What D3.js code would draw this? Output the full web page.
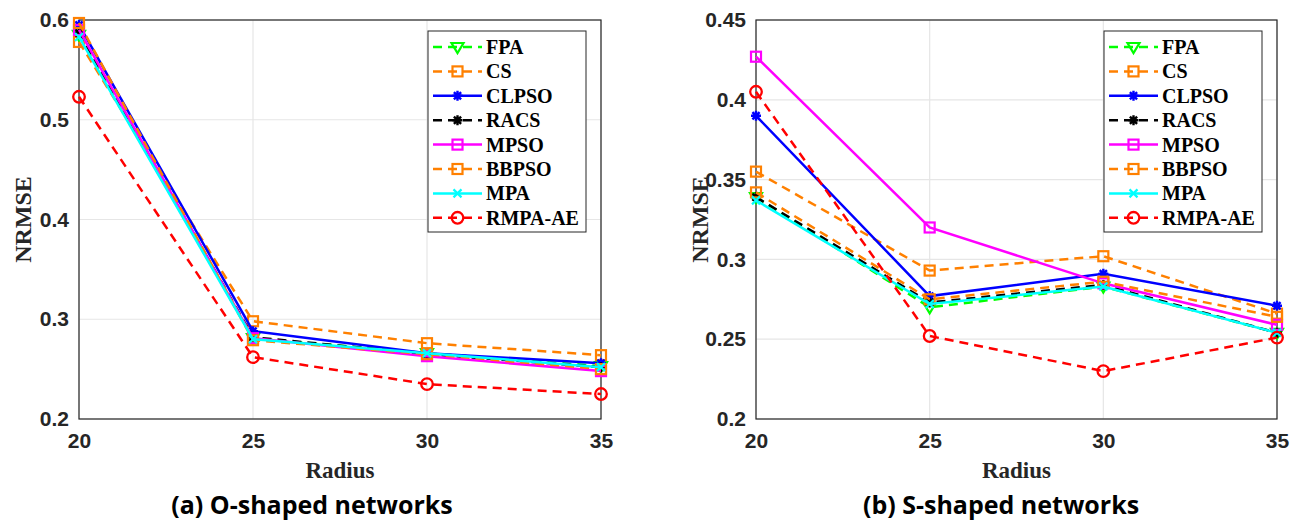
<!DOCTYPE html>
<html>
<head>
<meta charset="utf-8">
<script src="https://cdn.jsdelivr.net/npm/d3@7/dist/d3.min.js"></script>
<style>
  body { margin: 0; background: #fff; }
  svg { display: block; }
</style>
</head>
<body>
<svg id="chart" width="1291" height="523"></svg>
<script>
// Radius values on the x axis
const radius = [20, 25, 30, 35];

// Algorithm names in legend order
const algorithms = ["FPA", "CS", "CLPSO", "RACS", "MPSO", "BBPSO", "MPA", "RMPA-AE"];

// NRMSE, O-shaped networks
const oFPA     = [0.585, 0.281, 0.266, 0.253];
const oCS      = [0.578, 0.298, 0.276, 0.264];
const oCLPSO   = [0.595, 0.288, 0.266, 0.256];
const oRACS    = [0.587, 0.282, 0.265, 0.252];
const oMPSO    = [0.590, 0.281, 0.263, 0.248];
const oBBPSO   = [0.597, 0.279, 0.265, 0.250];
const oMPA     = [0.583, 0.280, 0.266, 0.252];
const oRMPAAE  = [0.523, 0.262, 0.235, 0.225];

// NRMSE, S-shaped networks
const sFPA     = [0.339, 0.270, 0.283, 0.254];
const sCS      = [0.355, 0.293, 0.302, 0.266];
const sCLPSO   = [0.390, 0.277, 0.291, 0.271];
const sRACS    = [0.339, 0.273, 0.284, 0.254];
const sMPSO    = [0.427, 0.320, 0.285, 0.259];
const sBBPSO   = [0.342, 0.275, 0.286, 0.264];
const sMPA     = [0.337, 0.272, 0.283, 0.254];
const sRMPAAE  = [0.405, 0.252, 0.230, 0.251];

const oTicks = [0.2, 0.3, 0.4, 0.5, 0.6];
const sTicks = [0.2, 0.25, 0.3, 0.35, 0.4, 0.45];

// Line and marker style for each algorithm
const styles = {
  "FPA":     {color: "#00ff00", dash: true,  marker: "triDown"},
  "CS":      {color: "#ff8000", dash: true,  marker: "square"},
  "CLPSO":   {color: "#0000ff", dash: false, marker: "star"},
  "RACS":    {color: "#000000", dash: true,  marker: "star"},
  "MPSO":    {color: "#ff00ff", dash: false, marker: "square"},
  "BBPSO":   {color: "#ff8000", dash: true,  marker: "square"},
  "MPA":     {color: "#00ffff", dash: false, marker: "cross"},
  "RMPA-AE": {color: "#ff0000", dash: true,  marker: "circle"}
};

const svg = d3.select("#chart");
const axisColor = "#262626";
const serif = "'Liberation Serif', 'Times New Roman', serif";

function drawMarker(g, type, cx, cy, color) {
  const m = g.append("g").attr("transform", `translate(${cx},${cy})`);
  if (type === "square") {
    m.append("rect").attr("x", -5).attr("y", -5).attr("width", 10).attr("height", 10)
      .attr("fill", "none").attr("stroke", color).attr("stroke-width", 2.2);
  } else if (type === "circle") {
    m.append("circle").attr("r", 5.8).attr("fill", "none").attr("stroke", color).attr("stroke-width", 2.3);
  } else if (type === "triDown") {
    m.append("path").attr("d", "M-6,-4 L6,-4 L0,6 Z")
      .attr("fill", "none").attr("stroke", color).attr("stroke-width", 2.2);
  } else if (type === "cross") {
    m.append("path").attr("d", "M-4,-4 L4,4 M-4,4 L4,-4")
      .attr("stroke", color).attr("stroke-width", 2.2);
  } else if (type === "star") {
    m.append("path").attr("d", "M0,-5 L0,5 M-5,0 L5,0 M-3.6,-3.6 L3.6,3.6 M-3.6,3.6 L3.6,-3.6")
      .attr("stroke", color).attr("stroke-width", 2.4);
  }
}

function panel(opts) {
  const {left, right, top, bottom, yDomain, yTicks, yFmt, series, title, titleX} = opts;
  const x = d3.scaleLinear().domain([20, 35]).range([left, right]);
  const y = d3.scaleLinear().domain(yDomain).range([bottom, top]);
  const g = svg.append("g");

  // grid
  g.append("g").selectAll("line").data(yTicks).join("line")
    .attr("x1", left).attr("x2", right).attr("y1", d => y(d)).attr("y2", d => y(d))
    .attr("stroke", "#e6e6e6").attr("stroke-width", 1.2);
  g.append("g").selectAll("line").data(radius).join("line")
    .attr("y1", top).attr("y2", bottom).attr("x1", d => x(d)).attr("x2", d => x(d))
    .attr("stroke", "#e6e6e6").attr("stroke-width", 1.2);

  // axes
  const yAxis = d3.axisLeft(y).tickValues(yTicks).tickFormat(yFmt).tickSize(0).tickPadding(10);
  const xAxis = d3.axisBottom(x).tickValues(radius).tickFormat(d3.format("d")).tickSize(0).tickPadding(14);
  const ya = g.append("g").attr("transform", `translate(${left},0)`).call(yAxis);
  const xa = g.append("g").attr("transform", `translate(0,${bottom})`).call(xAxis);
  [ya, xa].forEach(a => {
    a.select(".domain").remove();
    a.selectAll("text").attr("fill", axisColor)
      .style("font-family", "'Liberation Sans', Arial, sans-serif")
      .style("font-weight", "bold").style("font-size", "21px");
  });

  // box
  g.append("rect").attr("x", left).attr("y", top).attr("width", right - left).attr("height", bottom - top)
    .attr("fill", "none").attr("stroke", axisColor).attr("stroke-width", 1.2);

  // series
  const line = d3.line().x((d, i) => x(radius[i])).y(d => y(d));
  algorithms.forEach(name => {
    const st = styles[name];
    const vals = series[name];
    g.append("path").datum(vals).attr("d", line)
      .attr("fill", "none").attr("stroke", st.color).attr("stroke-width", 2.5)
      .attr("stroke-dasharray", st.dash ? "9,6" : null);
    vals.forEach((v, i) => drawMarker(g, st.marker, x(radius[i]), y(v), st.color));
  });

  // axis labels
  g.append("text").attr("x", (left + right) / 2).attr("y", 478).attr("text-anchor", "middle")
    .attr("fill", axisColor).style("font-family", serif)
    .style("font-weight", "bold").style("font-size", "23px").text("Radius");
  g.append("text").attr("transform", `translate(${left - 48},${(top + bottom) / 2}) rotate(-90)`)
    .attr("text-anchor", "middle")
    .attr("fill", axisColor).style("font-family", serif)
    .style("font-weight", "bold").style("font-size", "24px").text("NRMSE");

  // legend
  const lx = right - 173, ly = top + 11, lw = 158, lh = 201;
  const lg = g.append("g");
  lg.append("rect").attr("x", lx).attr("y", ly).attr("width", lw).attr("height", lh)
    .attr("fill", "#fff").attr("stroke", axisColor).attr("stroke-width", 1);
  algorithms.forEach((name, i) => {
    const st = styles[name];
    const yy = ly + 16 + i * 24.4;
    lg.append("line").attr("x1", lx + 5).attr("x2", lx + 54).attr("y1", yy).attr("y2", yy)
      .attr("stroke", st.color).attr("stroke-width", 2.5)
      .attr("stroke-dasharray", st.dash ? "9,6" : null);
    drawMarker(lg, st.marker, lx + 29.5, yy, st.color);
    lg.append("text").attr("x", lx + 58).attr("y", yy).attr("dy", "0.35em")
      .style("font-family", serif)
      .style("font-weight", "bold").style("font-size", "20px").attr("fill", "#000").text(name);
  });

  // caption
  g.append("text").attr("x", titleX).attr("y", 514).attr("text-anchor", "middle")
    .style("font-family", "'Open Sans', 'Noto Sans', sans-serif")
    .style("font-weight", "bold").style("font-size", "25px").attr("fill", "#000").text(title);
}

panel({
  left: 79, right: 601, top: 20, bottom: 419,
  yDomain: [0.2, 0.6], yTicks: oTicks, yFmt: d3.format(".1f"),
  series: {"FPA": oFPA, "CS": oCS, "CLPSO": oCLPSO, "RACS": oRACS, "MPSO": oMPSO,
           "BBPSO": oBBPSO, "MPA": oMPA, "RMPA-AE": oRMPAAE},
  title: "(a) O-shaped networks", titleX: 312
});

panel({
  left: 756, right: 1277, top: 20, bottom: 419,
  yDomain: [0.2, 0.45], yTicks: sTicks, yFmt: d => d3.format("")(+d.toFixed(2)),
  series: {"FPA": sFPA, "CS": sCS, "CLPSO": sCLPSO, "RACS": sRACS, "MPSO": sMPSO,
           "BBPSO": sBBPSO, "MPA": sMPA, "RMPA-AE": sRMPAAE},
  title: "(b) S-shaped networks", titleX: 1001
});
</script>
</body>
</html>
